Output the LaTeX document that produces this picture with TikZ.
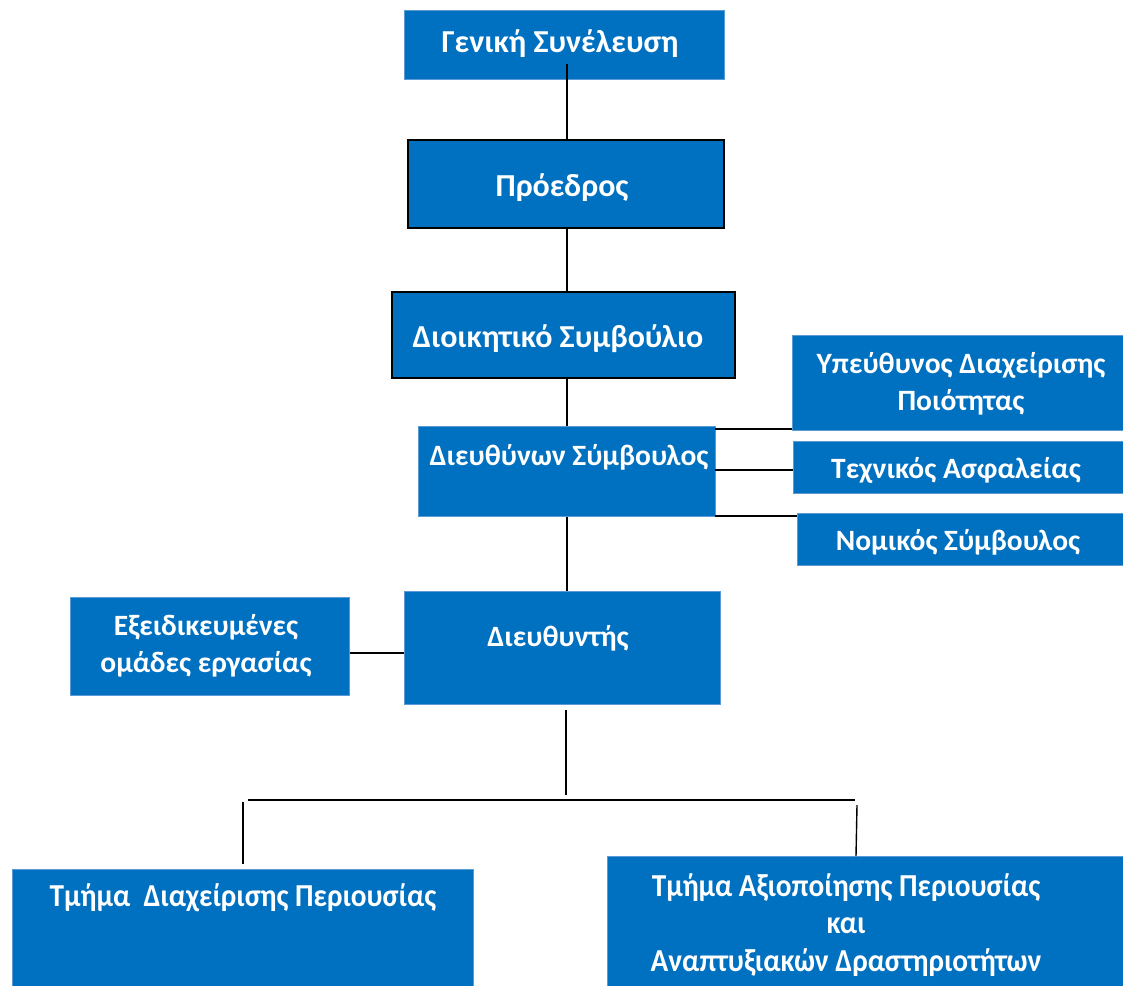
\documentclass[tikz,border=0pt]{standalone}
\usepackage{fontspec}
\setmainfont{Carlito}
\definecolor{boxblue}{HTML}{0070C0}
\definecolor{edgeblue}{HTML}{5B9BD5}
\tikzset{
  x=1pt, y=-1pt,
  box/.style={draw=edgeblue, line width=1pt, fill=boxblue, inner sep=0pt},
  darkbox/.style={draw=black, line width=2.2pt, fill=boxblue, inner sep=0pt},
  txt/.style={text=white, font=\fontsize{32}{37.5}\selectfont\bfseries, align=center, inner sep=0pt},
  stxt/.style={txt, font=\fontsize{29.5}{37.5}\selectfont\bfseries},
  conn/.style={draw=black, line width=1.4pt},
}
\newcommand{\mybox}[6]{%
  \node[#6, minimum width={#4-#2}, minimum height={#5-#3}] (#1) at ({(#2+#4)/2},{(#3+#5)/2}) {};}
\newcommand{\sq}[1]{\scalebox{0.915}[1]{#1}}
\begin{document}
\begin{tikzpicture}
\useasboundingbox (0,0) rectangle (1123,985);
% boxes
\mybox{gs}{404}{10}{724}{79}{box}
\mybox{pr}{408}{140}{724}{228}{darkbox}
\mybox{dsb}{392}{292}{735}{378}{darkbox}
\mybox{ceo}{418}{426}{715}{516}{box}
\mybox{qm}{792}{335}{1130}{430}{box}
\mybox{ts}{793}{441}{1130}{493}{box}
\mybox{lc}{797}{513}{1130}{565}{box}
\mybox{dir}{404}{591}{720}{704}{box}
\mybox{wg}{70}{597}{349}{695}{box}
\mybox{dp1}{12}{869}{473}{995}{box}
\mybox{dp2}{607}{856}{1130}{995}{box}
% texts
\node[txt] (gs-t) at (560,44) {Γενική Συνέλευση};
\node[txt] (pr-t) at (562,188) {Πρόεδρος};
\node[txt] (dsb-t) at (558,339) {Διοικητικό Συμβούλιο};
\node[stxt] (ceo-t) at (569,457) {Διευθύνων Σύμβουλος};
\node[stxt] (qm-t) at (961,384) {Υπεύθυνος Διαχείρισης\\Ποιότητας};
\node[stxt] (ts-t) at (956,470) {Τεχνικός Ασφαλείας};
\node[stxt] (lc-t) at (958,542) {Νομικός Σύμβουλος};
\node[stxt] (wg-t) at (206,646) {Εξειδικευμένες\\ομάδες εργασίας};
\node[stxt] (dir-t) at (558,638) {Διευθυντής};
\node[txt] (dp1-t) at (243,898) {\sq{Τμήμα\ \ Διαχείρισης Περιουσίας}};
\node[txt] (dp2-t) at (846,925) {\sq{Τμήμα Αξιοποίησης Περιουσίας}\\\sq{και}\\\sq{Αναπτυξιακών Δραστηριοτήτων}};
% connectors
\coordinate (c1) at (567,64);
\draw[conn] (c1) -- (c1 |- pr.north);
\draw[conn] (pr.south -| c1) -- (dsb.north -| c1);
\draw[conn] (dsb.south -| c1) -- (ceo.north -| c1);
\coordinate (r1) at (715,429);
\coordinate (r2) at (715,470);
\coordinate (r3) at (715,516);
\draw[conn] (r1) -- (r1 -| qm.west);
\draw[conn] (r2) -- (r2 -| ts.west);
\draw[conn] (r3) -- (r3 -| lc.west);
\draw[conn] (ceo.south -| c1) -- (dir.north -| c1);
\coordinate (w1) at (349,653);
\draw[conn] (w1 -| wg.east) -- (w1 -| dir.west);
\coordinate (d1) at (566,710);
\coordinate (d2) at (566,795);
\draw[conn] (d1) -- (d2);
\coordinate (h1) at (248,800);
\coordinate (h2) at (855,800);
\draw[conn] (h1) -- (h2);
\coordinate (v1) at (243,802);
\coordinate (v2) at (243,864);
\draw[conn] (v1) -- (v2);
\coordinate (v3) at (857,805);
\coordinate (v4) at (856,856);
\draw[conn] (v3) -- (v4);
\end{tikzpicture}
\end{document}
